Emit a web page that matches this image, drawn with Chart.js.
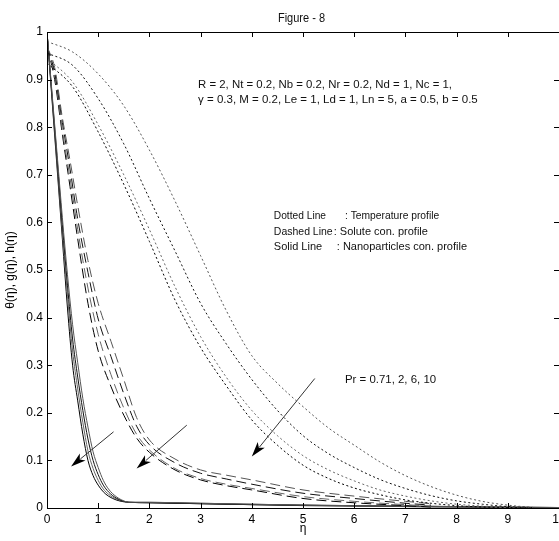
<!DOCTYPE html>
<html>
<head>
<meta charset="utf-8">
<script src="https://cdn.jsdelivr.net/npm/chart.js@4.4.1/dist/chart.umd.min.js"></script>
<style>
  html, body { margin: 0; padding: 0; background: #fff; }
  #wrap { width: 559px; height: 541px; }
</style>
</head>
<body>
<div id="wrap"><canvas id="fig8"></canvas></div>
<script>
// eta grids for each family
const etaTheta = [0, 0.5, 1, 1.5, 2, 2.5, 3, 3.5, 4, 4.5, 5, 5.5, 6, 6.5, 7, 7.5, 8, 8.5, 9, 9.5];
const etaG = [0, 0.15, 0.3, 0.45, 0.6, 0.8, 1, 1.25, 1.5, 1.75, 2, 2.5, 3, 3.5, 4, 5, 6, 7, 7.5];
const etaH = [0, 0.1, 0.2, 0.3, 0.4, 0.5, 0.6, 0.7, 0.8, 0.9, 1, 1.1, 1.2, 1.35, 1.5, 1.6, 2, 3, 4, 5, 6, 7, 8, 9, 10];

// Temperature profile theta(eta) -- dotted, Pr = 0.71, 2, 6, 10
const thetaPr071 = [0.98, 0.958, 0.912, 0.845, 0.752, 0.645, 0.53, 0.415, 0.32, 0.262, 0.213, 0.168, 0.132, 0.097, 0.068, 0.045, 0.027, 0.014, 0.006, 0.001];
const thetaPr2   = [0.956, 0.93, 0.86, 0.765, 0.65, 0.54, 0.43, 0.345, 0.27, 0.205, 0.152, 0.114, 0.085, 0.06, 0.041, 0.026, 0.015, 0.008, 0.003, 0.001];
const thetaPr6   = [0.945, 0.895, 0.805, 0.7, 0.585, 0.465, 0.36, 0.275, 0.205, 0.152, 0.11, 0.08, 0.057, 0.038, 0.025, 0.015, 0.008, 0.004, 0.001, 0];
const thetaPr10  = [0.935, 0.885, 0.79, 0.68, 0.56, 0.437, 0.337, 0.257, 0.185, 0.132, 0.09, 0.062, 0.042, 0.028, 0.017, 0.01, 0.005, 0.002, 0.001, 0];

// Solute concentration g(eta) -- dashed
const gPr071 = [0.97, 0.925, 0.82, 0.73, 0.635, 0.52, 0.43, 0.35, 0.27, 0.19, 0.143, 0.103, 0.08, 0.069, 0.059, 0.038, 0.025, 0.014, 0.009];
const gPr2   = [0.97, 0.915, 0.81, 0.712, 0.607, 0.495, 0.397, 0.318, 0.24, 0.172, 0.133, 0.095, 0.073, 0.061, 0.05, 0.031, 0.02, 0.01, 0.006];
const gPr6   = [0.97, 0.91, 0.793, 0.693, 0.585, 0.462, 0.365, 0.28, 0.21, 0.155, 0.122, 0.083, 0.062, 0.05, 0.041, 0.024, 0.014, 0.007, 0.004];
const gPr10  = [0.97, 0.9, 0.785, 0.675, 0.565, 0.43, 0.33, 0.255, 0.195, 0.147, 0.117, 0.08, 0.059, 0.047, 0.038, 0.02, 0.011, 0.005, 0.002];

// Nanoparticle concentration h(eta) -- solid
const hPr071 = [1, 0.87, 0.74, 0.61, 0.49, 0.385, 0.305, 0.23, 0.17, 0.118, 0.085, 0.058, 0.04, 0.024, 0.015, 0.012, 0.012, 0.01, 0.008, 0.006, 0.005, 0.004, 0.003, 0.002, 0.001];
const hPr2   = [1, 0.865, 0.73, 0.595, 0.468, 0.355, 0.275, 0.205, 0.145, 0.1, 0.07, 0.048, 0.034, 0.021, 0.014, 0.012, 0.011, 0.009, 0.007, 0.006, 0.005, 0.004, 0.003, 0.002, 0.001];
const hPr6   = [1, 0.86, 0.72, 0.58, 0.445, 0.33, 0.25, 0.18, 0.12, 0.083, 0.058, 0.04, 0.029, 0.019, 0.014, 0.012, 0.012, 0.01, 0.008, 0.006, 0.004, 0.003, 0.002, 0.001, 0];
const hPr10  = [1, 0.855, 0.71, 0.565, 0.42, 0.3, 0.225, 0.155, 0.1, 0.068, 0.048, 0.034, 0.025, 0.017, 0.013, 0.012, 0.011, 0.009, 0.007, 0.005, 0.004, 0.003, 0.002, 0.001, 0];

// arrows (data coords, tail -> head)
const arrowTail = [[1.3, 0.16], [2.73, 0.174], [5.23, 0.272]];
const arrowHead = [[0.47, 0.087], [1.75, 0.083], [4.0, 0.108]];

const FONT = '"Liberation Sans", Arial, sans-serif';
const lineColors = ['#555', '#111', '#666', '#000'];

function family(eta, seriesList, dash) {
    return seriesList.map((vals, i) => ({
        data: eta.map((e, k) => ({ x: e, y: vals[k] })),
        borderColor: lineColors[i],
        borderWidth: 1,
        borderDash: dash,
        pointRadius: 0,
        showLine: true,
        fill: false,
        cubicInterpolationMode: 'monotone'
    }));
}

const datasets = [].concat(
    family(etaTheta, [thetaPr071, thetaPr2, thetaPr6, thetaPr10], [2, 2.5]),
    family(etaG, [gPr071, gPr2, gPr6, gPr10], [10, 5]),
    family(etaH, [hPr071, hPr2, hPr6, hPr10], [])
);

// box, inward ticks, arrows and text notes
const decorPlugin = {
    id: 'decor',
    afterDatasetsDraw(chart) {
        const { ctx, chartArea: a, scales: { x, y } } = chart;
        ctx.save();
        ctx.strokeStyle = '#000';
        ctx.lineWidth = 1;
        ctx.setLineDash([]);

        // frame (right edge falls off the canvas)
        ctx.beginPath();
        ctx.moveTo(a.left + 0.5, a.bottom + 0.5);
        ctx.lineTo(a.left + 0.5, a.top + 0.5);
        ctx.lineTo(a.right, a.top + 0.5);
        ctx.moveTo(a.left + 0.5, a.bottom + 0.5);
        ctx.lineTo(a.right, a.bottom + 0.5);
        ctx.stroke();

        // inward tick marks
        ctx.beginPath();
        x.ticks.forEach(t => {
            const px = Math.round(x.getPixelForValue(t.value)) + 0.5;
            ctx.moveTo(px, a.bottom); ctx.lineTo(px, a.bottom - 5);
            ctx.moveTo(px, a.top); ctx.lineTo(px, a.top + 5);
        });
        y.ticks.forEach(t => {
            const py = Math.round(y.getPixelForValue(t.value)) + 0.5;
            ctx.moveTo(a.left, py); ctx.lineTo(a.left + 5, py);
            ctx.moveTo(a.right - 5, py); ctx.lineTo(a.right, py);
        });
        ctx.stroke();

        // arrows
        ctx.strokeStyle = '#333';
        ctx.fillStyle = '#000';
        arrowTail.forEach((t, i) => {
            const x0 = x.getPixelForValue(t[0]), y0 = y.getPixelForValue(t[1]);
            const x1 = x.getPixelForValue(arrowHead[i][0]), y1 = y.getPixelForValue(arrowHead[i][1]);
            const ang = Math.atan2(y1 - y0, x1 - x0);
            const c = Math.cos(ang), s = Math.sin(ang);
            const len = 15, hw = 4.5;
            ctx.beginPath();
            ctx.moveTo(x0, y0);
            ctx.lineTo(x1 - c * len * 0.8, y1 - s * len * 0.8);
            ctx.stroke();
            ctx.beginPath();
            ctx.moveTo(x1, y1);
            ctx.lineTo(x1 - c * len + s * hw, y1 - s * len - c * hw);
            ctx.lineTo(x1 - c * len * 0.75, y1 - s * len * 0.75);
            ctx.lineTo(x1 - c * len - s * hw, y1 - s * len + c * hw);
            ctx.closePath();
            ctx.fill();
        });

        // text notes, squeezed to the width they take in the figure
        ctx.fillStyle = '#111';
        ctx.textBaseline = 'middle';
        ctx.textAlign = 'left';
        const note = (txt, vx, vy, vEnd) => {
            const px = x.getPixelForValue(vx), py = y.getPixelForValue(vy);
            const w = ctx.measureText(txt).width;
            const k = vEnd ? Math.min(1, (x.getPixelForValue(vEnd) - px) / w) : 1;
            ctx.save();
            ctx.translate(px, py);
            ctx.scale(k, 1);
            ctx.fillText(txt, 0, 0);
            ctx.restore();
        };
        ctx.font = '11.5px ' + FONT;
        note('R = 2, Nt = 0.2, Nb = 0.2, Nr = 0.2, Nd = 1, Nc = 1,', 2.95, 0.889, 7.91);
        note('\u03B3 = 0.3, M = 0.2, Le = 1, Ld = 1, Ln = 5, a = 0.5, b = 0.5', 2.95, 0.857, 8.44);
        note('Pr = 0.71, 2, 6, 10', 5.82, 0.269, 7.6);
        ctx.font = '11px ' + FONT;
        note('Dotted Line', 4.43, 0.613, 5.45);
        note(': Temperature profile', 5.82, 0.613, 7.66);
        note('Dashed Line', 4.43, 0.580, 5.58);
        note(': Solute con. profile', 5.6, 0.580, 7.52);
        note('Solid Line', 4.43, 0.548, 5.38);
        note(': Nanoparticles con. profile', 5.66, 0.548, 8.24);

        // figure title, centred over the (wider, cropped) axes
        ctx.font = '12px ' + FONT;
        note('Figure - 8', 4.51, 1.029, 5.43);
        ctx.restore();
    }
};

new Chart(document.getElementById('fig8'), {
    type: 'scatter',
    data: { datasets: datasets },
    options: {
        animation: false,
        responsive: true,
        maintainAspectRatio: false,
        devicePixelRatio: 1,
        layout: { padding: { top: 32, left: 0, right: 0, bottom: 0 } },
        plugins: {
            legend: { display: false },
            tooltip: { enabled: false }
        },
        scales: {
            x: {
                type: 'linear',
                min: 0,
                max: 10,
                ticks: { stepSize: 1, color: '#000', padding: 4, maxRotation: 0, autoSkip: false, font: { family: FONT, size: 12 } },
                grid: { display: false, drawTicks: false },
                border: { display: false },
                title: { display: true, text: '\u03B7', color: '#000', font: { family: FONT, size: 12 }, padding: { top: 0, bottom: 5 } },
                afterFit(s) { s.height = 33; s.paddingLeft = 0; s.paddingRight = 0; }
            },
            y: {
                min: 0,
                max: 1,
                ticks: {
                    stepSize: 0.1, color: '#000', padding: 4, font: { family: FONT, size: 12 },
                    callback: v => String(Math.round(v * 10) / 10)
                },
                grid: { display: false, drawTicks: false },
                border: { display: false },
                title: { display: true, text: '\u03B8(\u03B7), g(\u03B7), h(\u03B7)', color: '#000', font: { family: FONT, size: 12 }, padding: { top: 3, bottom: 0 } },
                afterFit(s) { s.width = 47; s.paddingTop = 0; s.paddingBottom = 0; }
            }
        }
    },
    plugins: [decorPlugin]
});
</script>
</body>
</html>
